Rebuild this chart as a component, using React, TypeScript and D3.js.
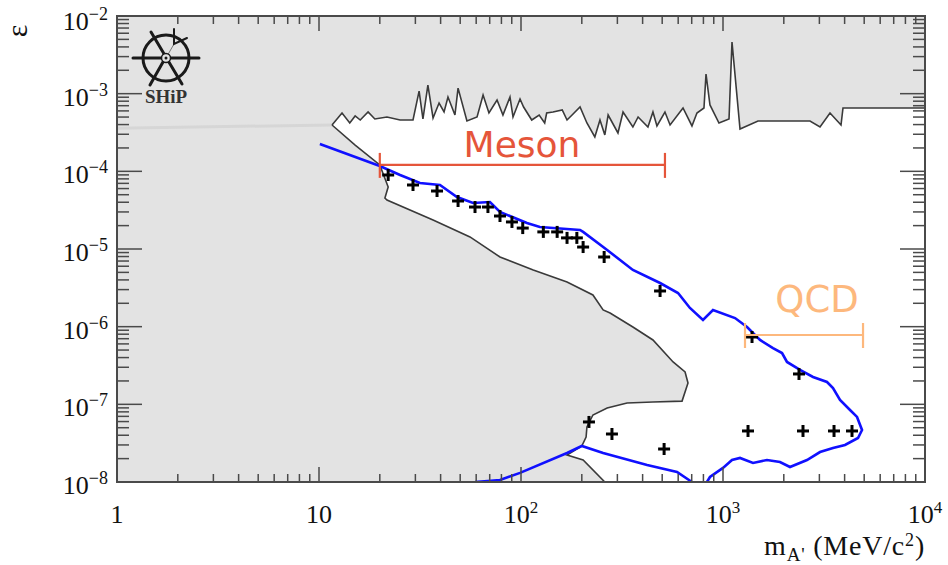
import React from "react";
import * as d3 from "d3";

// Upper exclusion contour (mass in MeV/c^2, epsilon)
const upperMass = [11.6, 13.0, 14.2, 15.1, 16.0, 17.5, 18.9, 21.7, 25.2, 29.2, 31.3, 32.7, 34.6, 36.7, 39.3, 41.6, 43.5, 47.1, 48.8, 54.0, 60.6, 64.9, 69.4, 76.1, 81.4, 88.2, 91.3, 98.9, 103, 113, 123, 131, 134, 144, 160, 169, 179, 196, 212, 232, 246, 260, 270, 302, 320, 358, 380, 425, 450, 471, 516, 547, 634, 702, 743, 805, 824, 862, 955, 1071, 1108, 1214, 1490, 2696, 3022, 3386, 3839, 3927, 10000];
const upperEps = [3.95e-4, 5.64e-4, 4.19e-4, 5.16e-4, 4.58e-4, 5.81e-4, 4.72e-4, 5.01e-4, 4.58e-4, 4.58e-4, 1.08e-3, 4.72e-4, 1.29e-3, 4.86e-4, 7.58e-4, 5.81e-4, 9.06e-4, 5.31e-4, 1.18e-3, 4.45e-4, 5.01e-4, 9.61e-4, 5.64e-4, 8.29e-4, 5.31e-4, 9.06e-4, 5.01e-4, 8.54e-4, 6.73e-4, 4.58e-4, 5.31e-4, 4.19e-4, 5.64e-4, 5.81e-4, 6.16e-4, 4.58e-4, 5.31e-4, 6.73e-4, 4.19e-4, 2.77e-4, 4.58e-4, 2.94e-4, 5.31e-4, 3.12e-4, 5.81e-4, 3.72e-4, 5.01e-4, 3.72e-4, 5.81e-4, 3.84e-4, 5.81e-4, 3.95e-4, 6.54e-4, 3.84e-4, 5.64e-4, 6.54e-4, 1.79e-3, 7.15e-4, 4.19e-4, 4.72e-4, 4.63e-3, 3.51e-4, 4.45e-4, 4.45e-4, 3.72e-4, 5.64e-4, 3.95e-4, 6.54e-4, 6.54e-4];

// Lower exclusion contour (continues from first upper point)
const lowerMass = [15.1, 20.0, 22.0, 21.2, 21.7, 36.7, 55.9, 78.7, 115, 169, 227, 255, 276, 358, 450, 566, 649, 671, 627, 450, 335, 267, 227, 212, 210, 200, 169, 203, 260];
const lowerEps = [2.18e-4, 1.21e-4, 6.29e-5, 4.54e-5, 4.28e-5, 2.36e-5, 1.43e-5, 7.89e-6, 5.37e-6, 3.76e-6, 2.56e-6, 1.64e-6, 1.50e-6, 9.91e-7, 6.74e-7, 3.51e-7, 2.61e-7, 1.88e-7, 1.10e-7, 1.07e-7, 1.04e-7, 8.97e-8, 7.29e-8, 5.11e-8, 3.80e-8, 2.91e-8, 2.23e-8, 1.92e-8, 1e-8];

// Blue sensitivity curve, upper branch
const blueUpperMass = [10.1, 20.0, 25.2, 31.6, 39.7, 48.2, 57.9, 70.2, 78.7, 107, 124, 196, 203, 267, 358, 488, 599, 686, 796, 892, 1147, 1315, 1525, 1768, 1960, 2074, 2406, 2790, 3272, 3504, 3796, 4254, 4608, 4878, 4660, 4018, 3504, 3022, 2605, 2146, 1915, 1651, 1408, 1214, 1108, 1000, 862, 833];
const blueUpperEps = [2.25e-4, 1.17e-4, 8.97e-5, 7.08e-5, 6.67e-5, 4.67e-5, 3.91e-5, 4.03e-5, 3.00e-5, 2.16e-5, 1.92e-5, 1.76e-5, 1.66e-5, 9.71e-6, 5.37e-6, 3.65e-6, 2.71e-6, 1.74e-6, 1.22e-6, 1.64e-6, 1.29e-6, 9.91e-7, 6.74e-7, 5.31e-7, 4.58e-7, 3.51e-7, 2.77e-7, 2.25e-7, 1.94e-7, 1.62e-7, 1.14e-7, 8.46e-8, 6.88e-8, 4.67e-8, 3.69e-8, 3.00e-8, 2.74e-8, 2.43e-8, 1.92e-8, 1.56e-8, 1.81e-8, 1.92e-8, 1.76e-8, 2.04e-8, 1.92e-8, 1.52e-8, 1.16e-8, 1e-8];

// Blue sensitivity curve, lower branch
const blueLowerMass = [59.2, 78.7, 98.9, 169, 200, 255, 421, 592, 702];
const blueLowerEps = [1e-8, 1.06e-8, 1.31e-8, 2.36e-8, 2.91e-8, 2.36e-8, 1.66e-8, 1.35e-8, 1e-8];

// Cross markers
const crossMass = [22.0, 29.2, 38.4, 48.8, 59.2, 68.6, 78.7, 90.2, 102, 129, 151, 169, 189, 203, 258, 488, 1392, 2378, 217, 282, 511, 1330, 2489, 3545, 4351];
const crossEps = [8.97e-5, 6.67e-5, 5.58e-5, 4.15e-5, 3.47e-5, 3.47e-5, 2.66e-5, 2.23e-5, 1.86e-5, 1.66e-5, 1.66e-5, 1.39e-5, 1.39e-5, 1.06e-5, 7.89e-6, 2.88e-6, 7.36e-7, 2.46e-7, 5.93e-8, 4.15e-8, 2.66e-8, 4.54e-8, 4.54e-8, 4.54e-8, 4.54e-8];

// Ranges
const mesonRange = [20, 516];
const mesonEps = 1.21e-4;
const qcdRange = [1285, 4934];
const qcdEps = 7.81e-7;

// Faint band at left
const bandMass = [1, 11.6];
const bandEps = [3.6e-4, 3.95e-4];

const xTickExps = [0, 1, 2, 3, 4];
const yTickExps = [-8, -7, -6, -5, -4, -3, -2];

const W = 948;
const H = 565;
const L = 117, R = 925, T = 16, B = 482;

const zip = (a: number[], b: number[]) => a.map((v, i) => [v, b[i]] as [number, number]);

export default function App() {
  const x = d3.scaleLog().domain([1, 1e4]).range([L, R]);
  const y = d3.scaleLog().domain([1e-8, 1e-2]).range([B, T]);
  const line = d3.line<[number, number]>().x(d => x(d[0])).y(d => y(d[1]));

  const upper = zip(upperMass, upperEps);
  const lower = zip(lowerMass, lowerEps);
  const whitePoly = [...upper, [1e4, 1e-8] as [number, number], ...lower.slice().reverse()];
  const lowerLine = [upper[0], ...lower];

  const xMinor: number[] = [];
  for (let e = 0; e < 4; e++) for (let k = 2; k <= 9; k++) xMinor.push(k * Math.pow(10, e));
  const yMinor: number[] = [];
  for (let e = -8; e < -2; e++) for (let k = 2; k <= 9; k++) yMinor.push(k * Math.pow(10, e));

  const axisColor = "#4a4a4a";
  const serif = "'Liberation Serif', 'Times New Roman', serif";
  const sans = "'DejaVu Sans', Verdana, sans-serif";
  const mesonColor = "#e5553a";
  const qcdColor = "#fdb87d";

  return (
    <svg width={W} height={H} style={{ position: "absolute", left: 0, top: 0, background: "#fff" }}>
      <defs>
        <clipPath id="plotClip">
          <rect x={L} y={T} width={R - L} height={B - T} />
        </clipPath>
      </defs>
      <rect x={0} y={0} width={W} height={H} fill="#fff" />
      <g clipPath="url(#plotClip)">
        <rect x={L} y={T} width={R - L} height={B - T} fill="#e3e3e3" />
        <path d={line(zip(bandMass, bandEps)) || ""} stroke="#d6d6d6" strokeWidth={3} fill="none" />
        <path d={(line(whitePoly) || "") + "Z"} fill="#ffffff" stroke="none" />
        <path d={line(upper) || ""} fill="none" stroke="#3a3a3a" strokeWidth={1.6} strokeLinejoin="miter" />
        <path d={line(lowerLine) || ""} fill="none" stroke="#3a3a3a" strokeWidth={1.6} />
        <path d={line(zip(blueUpperMass, blueUpperEps)) || ""} fill="none" stroke="#1010ff" strokeWidth={2.6} />
        <path d={line(zip(blueLowerMass, blueLowerEps)) || ""} fill="none" stroke="#1010ff" strokeWidth={2.6} />
        {crossMass.map((m, i) => {
          const cx = x(m), cy = y(crossEps[i]);
          return (
            <g key={i} stroke="#000" strokeWidth={3}>
              <line x1={cx - 6} x2={cx + 6} y1={cy} y2={cy} />
              <line x1={cx} x2={cx} y1={cy - 6} y2={cy + 6} />
            </g>
          );
        })}
      </g>

      {/* Meson range */}
      <g stroke={mesonColor} strokeWidth={2.2}>
        <line x1={x(mesonRange[0])} x2={x(mesonRange[1])} y1={y(mesonEps)} y2={y(mesonEps)} />
        <line x1={x(mesonRange[0])} x2={x(mesonRange[0])} y1={y(mesonEps) - 12} y2={y(mesonEps) + 13} />
        <line x1={x(mesonRange[1])} x2={x(mesonRange[1])} y1={y(mesonEps) - 12} y2={y(mesonEps) + 13} />
      </g>
      <text x={522} y={157} fontFamily={sans} fontSize={36} fill={mesonColor} textAnchor="middle">Meson</text>

      {/* QCD range */}
      <g stroke={qcdColor} strokeWidth={2.2}>
        <line x1={x(qcdRange[0])} x2={x(qcdRange[1])} y1={y(qcdEps)} y2={y(qcdEps)} />
        <line x1={x(qcdRange[0])} x2={x(qcdRange[0])} y1={y(qcdEps) - 12} y2={y(qcdEps) + 13} />
        <line x1={x(qcdRange[1])} x2={x(qcdRange[1])} y1={y(qcdEps) - 12} y2={y(qcdEps) + 13} />
      </g>
      <text x={817} y={312} fontFamily={sans} fontSize={37} fill={qcdColor} textAnchor="middle">QCD</text>

      {/* Frame ticks */}
      <g stroke={axisColor} strokeWidth={1.5}>
        {xTickExps.map(e => {
          const px = x(Math.pow(10, e));
          return (
            <g key={"xm" + e}>
              <line x1={px} x2={px} y1={B} y2={B - 15} />
              <line x1={px} x2={px} y1={T} y2={T + 15} />
            </g>
          );
        })}
        {xMinor.map(v => (
          <g key={"xn" + v}>
            <line x1={x(v)} x2={x(v)} y1={B} y2={B - 8} />
            <line x1={x(v)} x2={x(v)} y1={T} y2={T + 8} />
          </g>
        ))}
        {yTickExps.map(e => {
          const py = y(Math.pow(10, e));
          return (
            <g key={"ym" + e}>
              <line x1={L} x2={L + 25} y1={py} y2={py} />
              <line x1={R} x2={R - 25} y1={py} y2={py} />
            </g>
          );
        })}
        {yMinor.map(v => (
          <g key={"yn" + v}>
            <line x1={L} x2={L + 12} y1={y(v)} y2={y(v)} />
            <line x1={R} x2={R - 12} y1={y(v)} y2={y(v)} />
          </g>
        ))}
      </g>
      <rect x={L} y={T} width={R - L} height={B - T} fill="none" stroke={axisColor} strokeWidth={2} />

      {/* Y tick labels */}
      {yTickExps.map(e => (
        <text key={"yl" + e} x={108} y={y(Math.pow(10, e)) + (e === -2 ? 14 : 12)} fontFamily={serif} fontSize={26} textAnchor="end" fill="#111">
          10<tspan dy={-10} fontSize={18}>{"\u2212" + Math.abs(e)}</tspan>
        </text>
      ))}

      {/* X tick labels */}
      {xTickExps.map(e => (
        <text key={"xl" + e} x={x(Math.pow(10, e))} y={523} fontFamily={serif} fontSize={26} textAnchor="middle" fill="#111">
          {e === 0 ? "1" : "10"}
          {e >= 2 ? <tspan dy={-10} fontSize={17}>{String(e)}</tspan> : null}
        </text>
      ))}

      {/* Axis titles */}
      <text x={R} y={555} fontFamily={serif} fontSize={28} textAnchor="end" fill="#111" letterSpacing={0.8}>
        m<tspan dy={6} fontSize={19}>A'</tspan>
        <tspan dy={-6}> (MeV/c</tspan>
        <tspan dy={-9} fontSize={18}>2</tspan>
        <tspan dy={9}>)</tspan>
      </text>
      <text transform="translate(27,31) rotate(-90)" fontFamily={serif} fontSize={30} textAnchor="middle" fill="#111">ε</text>

      {/* SHiP logo */}
      <g stroke="#1a1a1a" fill="none" strokeLinecap="round">
        <circle cx={166} cy={58} r={23} strokeWidth={3} />
        <line x1={133} y1={58} x2={199} y2={58} strokeWidth={3} />
        <line x1={151} y1={32} x2={182} y2={84} strokeWidth={3} />
        <line x1={150} y1={85} x2={163} y2={62} strokeWidth={3} />
        <line x1={166} y1={58} x2={174} y2={44} strokeWidth={1} stroke="#777" />
        <path d="M174,29 L174,44 L187,38" strokeWidth={2} />
        <circle cx={166} cy={58} r={4.5} strokeWidth={1.5} fill="#e3e3e3" />
        <circle cx={166} cy={58} r={1.5} fill="#1a1a1a" strokeWidth={0} />
      </g>
      <text x={166} y={103} fontFamily={serif} fontWeight="bold" fontSize={19} textAnchor="middle" fill="#333">SHiP</text>
    </svg>
  );
}
